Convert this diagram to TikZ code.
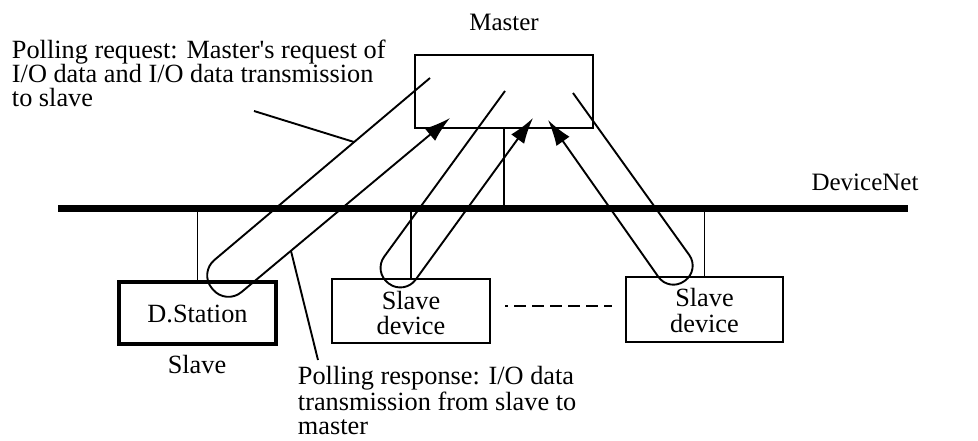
\documentclass[tikz,border=0pt]{standalone}
\usepackage{fontspec}
\setmainfont{Liberation Serif}
\usetikzlibrary{arrows.meta}
\begin{document}
\begin{tikzpicture}[x=1pt,y=-1pt,
  line width=1.9pt,
  box/.style={draw, line width=1.9pt, inner sep=0pt, align=center},
  txt/.style={inner sep=0pt, align=left, font=\fontsize{26.3}{24}\selectfont},
  small/.style={inner sep=0pt, font=\fontsize{25}{25}\selectfont},
  loopline/.style={line width=1.9pt, rounded corners=20pt, -{Latex[length=26pt,width=16pt]}},
  lead/.style={line width=1.9pt},
  bus/.style={line width=7pt}]
\useasboundingbox (0,0) rectangle (978,441);
% bus
\coordinate (busL) at (58,209);
\coordinate (busR) at (908,209);
\draw[bus] (busL) -- (busR);
\node[small, anchor=base] (dnet) at (865,190) {DeviceNet};
% master
\node[box, minimum width=178pt, minimum height=73pt] (master) at (504,91.5) {};
\node[small, anchor=base] (mlab) at (504,31) {Master};
% slaves
\node[box, line width=4pt, minimum width=157pt, minimum height=62pt] (dst) at (197.5,313) {};
\node[txt, anchor=base] (dsttxt) at (197.5,322) {D.Station};
\node[txt, anchor=base] (slab) at (197,373) {Slave};
\node[box, minimum width=158pt, minimum height=64pt] (sd1) at (411,311) {};
\node[txt, anchor=base] (sd1t) at (411,309) {Slave};
\node[txt, anchor=base] (sd1b) at (411,334) {device};
\node[box, minimum width=157pt, minimum height=65pt] (sd2) at (704.5,309.5) {};
\node[txt, anchor=base] (sd2t) at (704.5,306) {Slave};
\node[txt, anchor=base] (sd2b) at (704.5,332) {device};
% drops
\draw (master.south) -- (master.south |- busL);
\draw (dst.north) -- (dst.north |- busL);
\draw (sd1.north) -- (sd1.north |- busL);
\draw (sd2.north) -- (sd2.north |- busL);
% dashed
\coordinate (dA) at (505,306);
\coordinate (dB) at (612,306);
\draw[line width=1.9pt, dash pattern=on 12pt off 6pt, dash phase=9pt] (dA) -- (dB);
% loops
\coordinate (l1s) at (430,78);
\coordinate (l1a) at (199,273);
\coordinate (l1b) at (226,305);
\coordinate (l1t) at (450,118);
\draw[loopline] (l1s) -- (l1a) -- (l1b) -- (l1t);
\coordinate (l2s) at (505,91);
\coordinate (l2a) at (373,272);
\coordinate (l2b) at (404.5,295);
\coordinate (l2t) at (533,118);
\draw[loopline, rounded corners=19pt] (l2s) -- (l2a) -- (l2b) -- (l2t);
\coordinate (l3s) at (573,93);
\coordinate (l3a) at (700,270);
\coordinate (l3b) at (669,292);
\coordinate (l3t) at (548,120);
\draw[loopline, rounded corners=18.5pt] (l3s) -- (l3a) -- (l3b) -- (l3t);
% labels
\node[txt, anchor=base west] (req) at (11,107) {Polling request: Master\textquotesingle s request of\\I/O data and I/O data transmission\\to slave};
\coordinate (reqA) at (254,111);
\coordinate (reqB) at (354,142);
\draw[lead] (reqA) -- (reqB);
\node[txt, anchor=base west] (resp) at (297,434) {Polling response: I/O data\\transmission from slave to\\master};
\coordinate (respA) at (291,251);
\coordinate (respB) at (318,360);
\draw[lead] (respA) -- (respB);
\end{tikzpicture}
\end{document}
